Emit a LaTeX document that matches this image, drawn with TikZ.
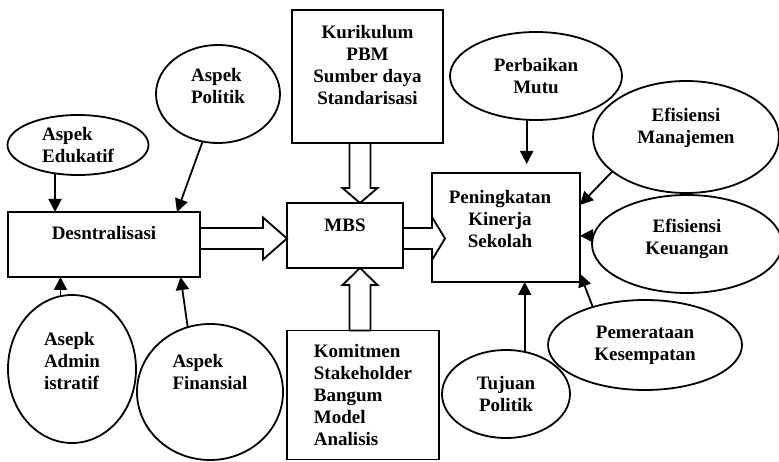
\documentclass[tikz,border=0pt]{standalone}
\usepackage{fontspec}
\setmainfont{Liberation Serif}
\usetikzlibrary{shapes.geometric,arrows.meta,calc}

% panah blok: ekor, ujung, panjang kepala, setengah lebar kepala
\newcommand{\bigarrow}[4]{%
	\coordinate (ba) at ($(#2)!#3!(#1)$);
	\draw[blockarr] ($(#1)!10.5pt!90:(#2)$) -- ($(ba)!10.5pt!-90:(#1)$) -- ($(ba)!#4!-90:(#1)$) -- (#2)
		-- ($(ba)!#4!90:(#1)$) -- ($(ba)!10.5pt!90:(#1)$) -- ($(#1)!10.5pt!-90:(#2)$) -- cycle;}

\begin{document}
\begin{tikzpicture}[x=1pt,y=-1pt,line width=1.8pt,
	font=\fontsize{19}{22}\selectfont\bfseries,
	box/.style={draw,rectangle,outer sep=0pt,inner sep=0pt},
	oval/.style={draw,ellipse,outer sep=0pt,inner sep=0pt,align=center},
	arr/.style={-{Triangle[length=13pt,width=13pt]}},
	blockarr/.style={fill=white,line join=miter}]
		\useasboundingbox (0,0) rectangle (779,462);
		% Nivel kiri: desentralisasi
		\node[box,minimum width=192,minimum height=65,label={[yshift=11pt]center:Desntralisasi}] (desent) at (104,244.5) {};
		\node[oval,align=left,minimum width=141,minimum height=60] (edu) at (78,145) {Aspek\\Edukatif};
		\node[oval,minimum width=124,minimum height=98,label={[align=left,yshift=8pt]center:Aspek\\Politik}] (pol) at (218,94) {};
		\node[oval,minimum width=128,minimum height=148,label={[align=left,yshift=8pt]center:Asepk\\Admin\\istratif}] (adm) at (72,369) {};
		\node[oval,minimum width=146,minimum height=136,label={[align=left,yshift=20pt]center:Aspek\\Finansial}] (fin) at (210,392) {};
		\draw[arr] (edu.231) -- (edu.231 |- desent.north);
		\draw[arr] (pol.252) -- (desent.24);
		\draw[arr] (adm.99) -- (adm.99 |- desent.south);
		\draw[arr] (fin.109) -- (desent.-23);
		% Nivel tengah: MBS
		\node[box,minimum width=116,minimum height=65,label={[yshift=10pt]center:MBS}] (mbs) at (345,235.5) {};
		\node[box,minimum width=151,minimum height=133,label={[align=center,yshift=11pt]center:Kurikulum\\PBM\\Sumber daya\\Standarisasi}] (kuri) at (367.5,76.5) {};
		\node[box,align=left,minimum width=152,minimum height=129] (komit) at (363,395) {Komitmen\\Stakeholder\\Bangum\\Model\\Analisis};
		% Nivel kanan: kinerja sekolah
		\node[box,minimum width=148,minimum height=109,label={[align=center,xshift=-6pt,yshift=8pt]center:Peningkatan\\Kinerja\\Sekolah}] (pkin) at (506,227.5) {};
		\node[oval,minimum width=172,minimum height=88] (mutu) at (536,76) {Perbaikan\\Mutu};
		\node[oval,minimum width=186,minimum height=112,label={[align=center,yshift=9pt]center:Efisiensi\\Manajemen}] (mnj) at (686,137) {};
		\node[oval,minimum width=190,minimum height=98,label={[align=center,yshift=5pt]center:Efisiensi\\Keuangan}] (keu) at (687,244) {};
		\node[oval,minimum width=194,minimum height=90] (pem) at (645,345) {Pemerataan\\Kesempatan};
		\node[oval,minimum width=128,minimum height=88] (tuj) at (506,394) {Tujuan\\Politik};
		\draw[arr,shorten >=9pt] (mutu.258) -- (mutu.258 |- pkin.north);
		\draw[arr] (mnj.205) -- (pkin.17);
		\draw[arr] (keu.175) -- (keu.175 -| pkin.east);
		\draw[arr] (pem.144) -- (pkin.-32);
		\draw[arr] (tuj.66) -- (tuj.66 |- pkin.south);
		% Panah blok
		\coordinate (a1) at ([yshift=-3pt]mbs.west);
		\coordinate (a0) at (desent.east |- a1);
		\bigarrow{a0}{a1}{24pt}{21pt}
		\coordinate (b1) at ([xshift=15pt]mbs.north);
		\coordinate (b0) at (b1 |- kuri.south);
		\bigarrow{b0}{b1}{15pt}{17.5pt}
		\coordinate (c1) at ([xshift=15pt]mbs.south);
		\coordinate (c0) at (c1 |- komit.north);
		\bigarrow{c0}{c1}{17pt}{17.5pt}
		\coordinate (d0) at ([yshift=-3pt]mbs.east);
		\coordinate (d1) at ($(d0 -| pkin.west)+(13,0)$);
		\bigarrow{d0}{d1}{13pt}{21.5pt}
	\end{tikzpicture}
\end{document}
